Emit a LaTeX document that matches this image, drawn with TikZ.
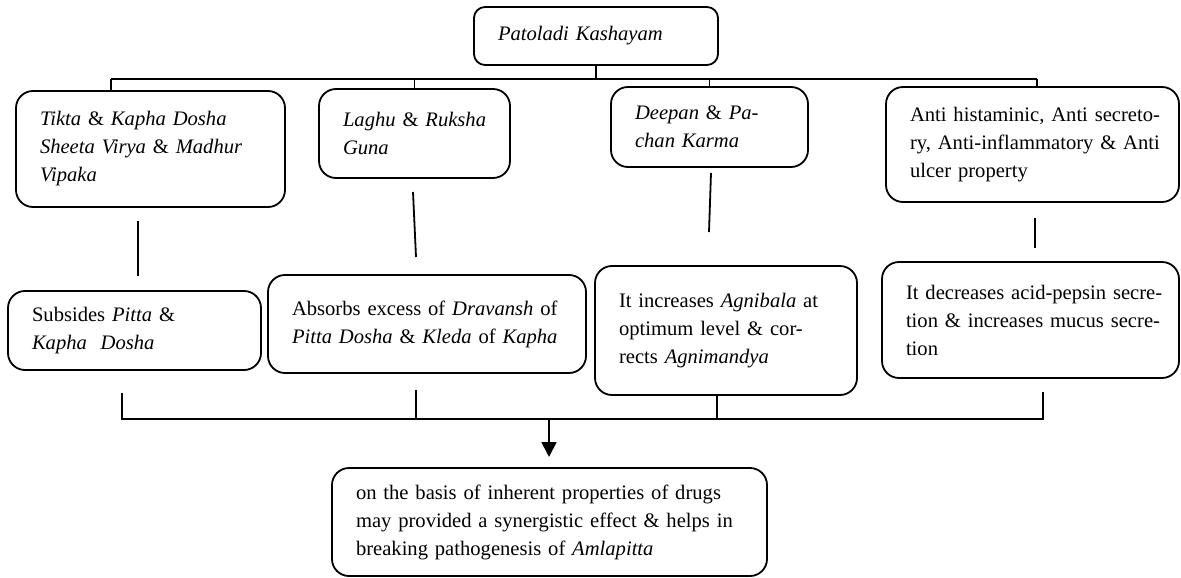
\documentclass[tikz,border=0pt]{standalone}
\usepackage{fontspec}
\setmainfont{Liberation Serif}
\usetikzlibrary{arrows.meta}
\begin{document}
\begin{tikzpicture}[x=1pt,y=-1pt,
  box/.style={draw, rounded corners=17pt, line width=1.8pt, anchor=north west,
    align=left, inner xsep=24pt, inner ysep=0pt, outer sep=0pt,
    font=\fontsize{20.6}{28}\selectfont},
  conn/.style={line width=1.8pt}]
\useasboundingbox (0,0) rectangle (1181,578);

% top
\node[box, rounded corners=11pt, text width=196pt, minimum height=58pt] (top) at (474,7)
  {\textit{Patoladi Kashayam}};

% row 1
\node[box, text width=221pt, minimum height=116pt] (A) at (16,91)
  {\mbox{\textit{Tikta} \& \textit{Kapha Dosha}}\\\mbox{\textit{Sheeta Virya} \& \textit{Madhur}}\\\mbox{\textit{Vipaka}}};
\node[box, text width=143pt, minimum height=89pt] (B) at (319,89)
  {\mbox{\textit{Laghu} \& \textit{Ruksha}}\\\mbox{\textit{Guna}}};
\node[box, text width=149pt, minimum height=80pt] (C) at (611,87)
  {\mbox{\textit{Deepan} \& \textit{Pa-}}\\\mbox{\textit{chan Karma}}};
\node[box, text width=245pt, minimum height=115pt] (D) at (886,87)
  {\mbox{Anti histaminic, Anti secreto-}\\\mbox{ry, Anti-inflammatory \& Anti}\\\mbox{ulcer property}};

% row 2
\node[box, text width=205pt, minimum height=79pt] (E) at (8,291)
  {\mbox{Subsides \textit{Pitta} \&}\\\mbox{\textit{Kapha\ \ Dosha}}};
\node[box, text width=270pt, minimum height=98pt] (F) at (268,275)
  {\mbox{Absorbs excess of \textit{Dravansh} of}\\\mbox{\textit{Pitta Dosha} \& \textit{Kleda} of \textit{Kapha}}};
\node[box, text width=214pt, minimum height=129pt] (G) at (595,266)
  {\mbox{It increases \textit{Agnibala} at}\\\mbox{optimum level \& cor-}\\\mbox{rects \textit{Agnimandya}}};
\node[box, text width=249pt, minimum height=116pt] (H) at (882,262)
  {\mbox{It decreases acid-pepsin secre-}\\\mbox{tion \& increases mucus secre-}\\\mbox{tion}};

% bottom
\node[box, text width=387pt, minimum height=108pt] (bot) at (332,468)
  {\mbox{on the basis of inherent properties of drugs}\\\mbox{may provided a synergistic effect \& helps in}\\\mbox{breaking pathogenesis of \textit{Amlapitta}}};

% top bus
\coordinate (busL) at (111,79);
\coordinate (busR) at (1037,79);
\draw[conn] (busL) -- (busR);
\draw[conn] (top.south) -- (top.south |- busL);
\draw[conn] (busL) -- (busL |- A.north);
\draw[conn] (B.north |- busL) -- (B.north);
\draw[conn] (C.north |- busL) -- (C.north);
\draw[conn] (busR) -- (busR |- D.north);

% free lines between rows
\coordinate (a1) at (138,221); \coordinate (a2) at (138,276);
\coordinate (b1) at (413,192); \coordinate (b2) at (416,257);
\coordinate (c1) at (711,173); \coordinate (c2) at (709,232);
\coordinate (d1) at (1035,218); \coordinate (d2) at (1035,248);
\draw[conn] (a1) -- (a2);
\draw[conn] (b1) -- (b2);
\draw[conn] (c1) -- (c2);
\draw[conn] (d1) -- (d2);

% bottom bus
\coordinate (e1) at (122,393);
\coordinate (f1) at (416,390);
\coordinate (h1) at (1043,392);
\coordinate (bus2) at (122,419);
\coordinate (gx) at (717,395);
\draw[conn] (e1) |- (h1 |- bus2) -- (h1);
\draw[conn] (f1) -- (f1 |- bus2);
\draw[conn] (gx) -- (gx |- bus2);

% arrow
\coordinate (arrS) at (549,419);
\coordinate (arrE) at (549,457);
\draw[conn, -{Triangle[length=15pt,width=15pt]}] (arrS) -- (arrE);
\end{tikzpicture}
\end{document}
